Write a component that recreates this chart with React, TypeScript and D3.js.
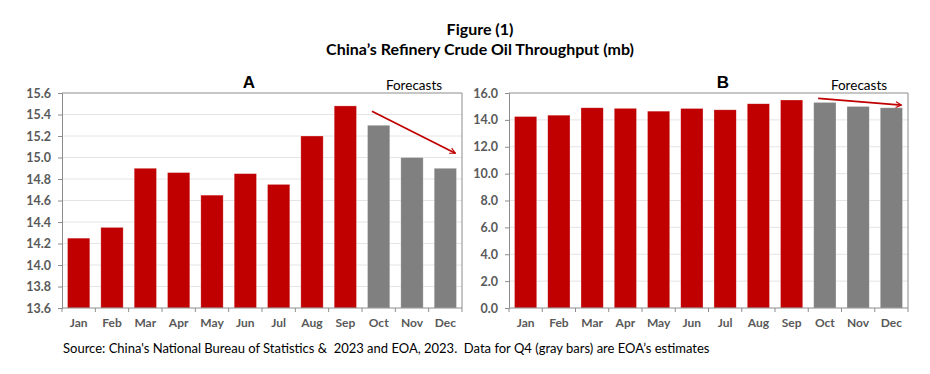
import React, { useRef, useEffect } from 'react';
import * as d3 from 'd3';

const months = ['Jan', 'Feb', 'Mar', 'Apr', 'May', 'Jun', 'Jul', 'Aug', 'Sep', 'Oct', 'Nov', 'Dec'];
const throughput = [14.25, 14.35, 14.9, 14.86, 14.65, 14.85, 14.75, 15.2, 15.48, 15.3, 15.0, 14.9];
const isForecast = [false, false, false, false, false, false, false, false, false, true, true, true];
const ticksA = [13.6, 13.8, 14.0, 14.2, 14.4, 14.6, 14.8, 15.0, 15.2, 15.4, 15.6];
const ticksB = [0, 2, 4, 6, 8, 10, 12, 14, 16];

const titleLines = ['Figure (1)', 'China\u2019s Refinery Crude Oil Throughput (mb)'];
const sourceNote = "Source: China's National Bureau of Statistics &  2023 and EOA, 2023.  Data for Q4 (gray bars) are EOA\u2019s estimates";

const RED = '#c00000';
const GRAY = '#808080';
const LABEL = '#595959';
const FONT = 'Lato, "Liberation Sans", sans-serif';

const W = 930;
const H = 374;

export default function App() {
    const svgRef = useRef<SVGSVGElement>(null);

    useEffect(() => {
        const svg = d3.select(svgRef.current);
        svg.selectAll('*').remove();

        // arrow marker (open head)
        svg.append('defs').append('marker')
            .attr('id', 'arrowHead')
            .attr('viewBox', '0 0 10 10')
            .attr('refX', 9).attr('refY', 5)
            .attr('markerWidth', 7).attr('markerHeight', 7)
            .attr('markerUnits', 'userSpaceOnUse')
            .attr('orient', 'auto')
            .append('path')
            .attr('d', 'M1,1 L9,5 L1,9')
            .attr('fill', 'none')
            .attr('stroke', RED)
            .attr('stroke-width', 1.6);

        // titles
        svg.selectAll('.title')
            .data(titleLines)
            .join('text')
            .attr('x', 480)
            .attr('y', (d, i) => 35 + i * 20)
            .attr('text-anchor', 'middle')
            .style('font-family', FONT)
            .style('font-weight', 'bold')
            .style('font-size', '16px')
            .text(d => d);

        const drawPanel = (opts) => {
            const { left, right, top, bottom, domain, ticks, fmt, letter, arrow } = opts;
            const g = svg.append('g');

            const x = d3.scaleBand().domain(months).range([left, right]).paddingInner(0.33).paddingOuter(0.165);
            const y = d3.scaleLinear().domain(domain).range([bottom, top]);

            // gridlines
            g.selectAll('.grid')
                .data(ticks.slice(1, -1))
                .join('line')
                .attr('x1', left).attr('x2', right)
                .attr('y1', d => y(d)).attr('y2', d => y(d))
                .attr('stroke', '#e4e4e4')
                .attr('stroke-width', 1);

            // bars
            g.selectAll('.bar')
                .data(throughput)
                .join('rect')
                .attr('x', (d, i) => x(months[i]))
                .attr('y', d => y(d))
                .attr('width', x.bandwidth())
                .attr('height', d => bottom - y(d))
                .attr('fill', (d, i) => (isForecast[i] ? GRAY : RED))
                .attr('stroke', '#ffffff')
                .attr('stroke-opacity', 0.5)
                .attr('stroke-width', 0.6);

            // plot border (top and right)
            g.append('path')
                .attr('d', `M${left},${top}H${right}V${bottom}`)
                .attr('fill', 'none')
                .attr('stroke', '#8c8c8c')
                .attr('stroke-width', 1);

            // y axis
            const yAxis = d3.axisLeft(y).tickValues(ticks).tickFormat(fmt).tickSize(4).tickPadding(7);
            const ya = g.append('g').attr('transform', `translate(${left},0)`).call(yAxis);
            ya.select('.domain').attr('stroke', '#8c8c8c');
            ya.selectAll('line').attr('stroke', '#8c8c8c');
            ya.selectAll('text')
                .attr('fill', LABEL)
                .style('font-family', FONT)
                .style('font-weight', 'bold')
                .style('font-size', '12.5px');

            // x axis, ticks sit between the categories
            const xa = g.append('g').attr('transform', `translate(0,${bottom})`);
            xa.append('line').attr('x1', left).attr('x2', right).attr('stroke', '#8c8c8c');
            const bounds = d3.range(13).map(i => left + i * (right - left) / 12);
            xa.selectAll('.xt')
                .data(bounds)
                .join('line')
                .attr('x1', d => d).attr('x2', d => d)
                .attr('y1', 0).attr('y2', 4)
                .attr('stroke', '#8c8c8c');
            xa.selectAll('.xl')
                .data(months)
                .join('text')
                .attr('x', d => x(d) + x.bandwidth() / 2)
                .attr('y', 19)
                .attr('text-anchor', 'middle')
                .attr('fill', LABEL)
                .style('font-family', FONT)
                .style('font-weight', 'bold')
                .style('font-size', '12px')
                .text(d => d);

            // panel letter
            g.append('text')
                .attr('x', letter.x).attr('y', 88)
                .attr('text-anchor', 'middle')
                .style('font-family', '"Liberation Sans", Arial, sans-serif')
                .style('font-weight', 'bold')
                .style('font-size', '17px')
                .text(letter.text);

            // forecasts label and arrow
            g.append('text')
                .attr('x', arrow.labelX).attr('y', 90)
                .attr('text-anchor', 'middle')
                .style('font-family', FONT)
                .style('font-size', '13.5px')
                .text('Forecasts');

            const xs = x('Oct') + x.bandwidth() * 0.2;
            const xe = x('Dec') + x.bandwidth() * 0.95;
            g.append('line')
                .attr('x1', xs).attr('y1', y(arrow.from))
                .attr('x2', xe).attr('y2', y(arrow.to))
                .attr('stroke', RED)
                .attr('stroke-width', 1.8)
                .attr('marker-end', 'url(#arrowHead)');
        };

        drawPanel({
            left: 62, right: 462, top: 93, bottom: 308,
            domain: [13.6, 15.6], ticks: ticksA, fmt: d3.format('.1f'),
            letter: { text: 'A', x: 249 },
            arrow: { labelX: 414, from: 15.43, to: 15.04 },
        });

        drawPanel({
            left: 509, right: 908, top: 93, bottom: 308,
            domain: [0, 16], ticks: ticksB, fmt: d3.format('.1f'),
            letter: { text: 'B', x: 723 },
            arrow: { labelX: 859, from: 15.6, to: 15.1 },
        });

        // source note (keeps its double spaces)
        svg.append('text')
            .attr('x', 63).attr('y', 353)
            .style('font-family', FONT)
            .style('font-size', '13px')
            .style('white-space', 'pre')
            .text(sourceNote);
    }, []);

    return (
        <div style={{ position: 'absolute', left: 0, top: 0 }}>
            <svg ref={svgRef} width={W} height={H} style={{ display: 'block', background: '#fff' }} />
        </div>
    );
}
